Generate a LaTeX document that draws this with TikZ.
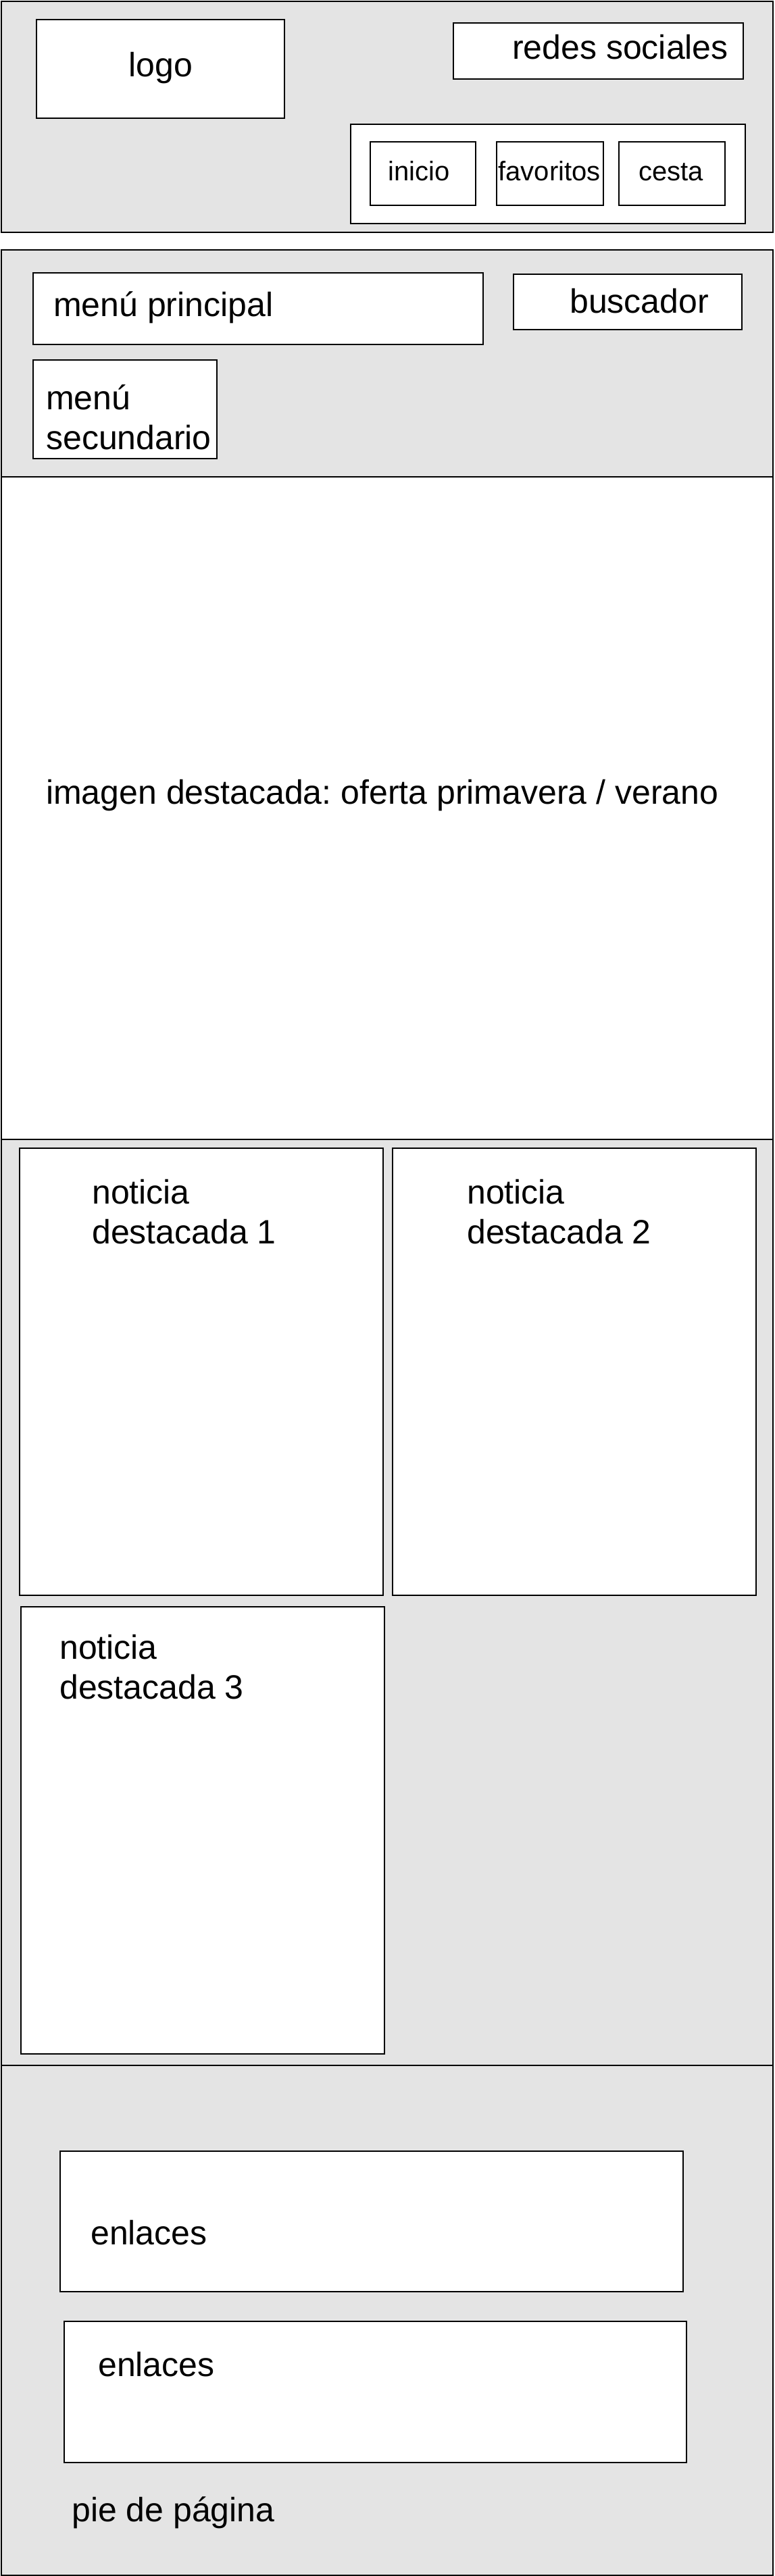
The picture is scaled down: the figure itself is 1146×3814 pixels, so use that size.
\documentclass[tikz,border=0pt]{standalone}
\usepackage{fontspec}
\setmainfont{Liberation Sans}
\frenchspacing
\definecolor{panelgray}{HTML}{E4E4E4}
\tikzset{
  panel/.style={draw=black, fill=panelgray, line width=2pt, inner sep=0pt, anchor=north west},
  wpanel/.style={draw=black, fill=white, line width=2pt, inner sep=0pt, anchor=north west},
  wbox/.style={draw=black, fill=white, line width=1.8pt, inner sep=0pt, anchor=north west},
  big/.style={font=\fontsize{50}{59}\selectfont\frenchspacing, inner sep=0pt, anchor=base west, align=left},
  small/.style={font=\fontsize{40}{48}\selectfont, inner sep=0pt, anchor=base west},
}
\newcommand{\bx}[6]{\node[#1, minimum width=#5pt-#3pt, minimum height=#6pt-#4pt] (#2) at (#3,#4) {};}
\begin{document}
\begin{tikzpicture}[x=1pt,y=-1pt]
\useasboundingbox (0,0) rectangle (1146,3814);
% header
\bx{panel}{header}{1}{1}{1143}{343}
\bx{wbox}{logo}{53}{28}{420}{174}
\bx{wbox}{redes}{670}{33}{1099}{116}
\bx{wbox}{nav}{518}{183}{1102}{330}
\bx{wbox}{inicio}{547}{209}{703}{303}
\bx{wbox}{favoritos}{734}{209}{892}{303}
\bx{wbox}{cesta}{915}{209}{1072}{303}
\node[big, anchor=base] (tlogo) at (238,113) {logo};
\node[big] (tredes) at (758,88) {redes sociales};
\node[small, anchor=base] (tinicio) at (620,267) {inicio};
\node[small, anchor=base] (tfav) at (813,267) {favoritos};
\node[small, anchor=base] (tcesta) at (993,267) {cesta};
% menu section
\bx{panel}{sec2}{1}{369}{1143}{705}
\bx{wbox}{menup}{48}{403}{714}{509}
\bx{wbox}{busc}{759}{405}{1097}{487}
\bx{wbox}{menus}{48}{532}{320}{678}
\node[big] (tmenup) at (79,468) {menú principal};
\node[big] (tbusc) at (843,463) {buscador};
\node[big] (tmenus) at (68,665) {menú\\secundario};
% image section
\bx{wpanel}{sec3}{1}{705}{1143}{1686}
\node[big] (timg) at (68,1190) {imagen destacada: oferta primavera / verano};
% news section
\bx{panel}{sec4}{1}{1686}{1143}{3057}
\bx{wbox}{not1}{28}{1699}{566}{2361}
\bx{wbox}{not2}{580}{1699}{1118}{2361}
\bx{wbox}{not3}{30}{2378}{568}{3040}
\node[big] (tnot1) at (136,1841) {noticia\\destacada 1};
\node[big] (tnot2) at (691,1841) {noticia\\destacada 2};
\node[big] (tnot3) at (88,2515) {noticia\\destacada 3};
% footer
\bx{panel}{sec5}{1}{3057}{1143}{3812}
\bx{wbox}{enl1}{88}{3184}{1010}{3392}
\bx{wbox}{enl2}{94}{3436}{1015}{3645}
\node[big] (tenl1) at (134,3323) {enlaces};
\node[big] (tenl2) at (145,3518) {enlaces};
\node[big] (tpie) at (106,3733) {pie de página};
\end{tikzpicture}
\end{document}
